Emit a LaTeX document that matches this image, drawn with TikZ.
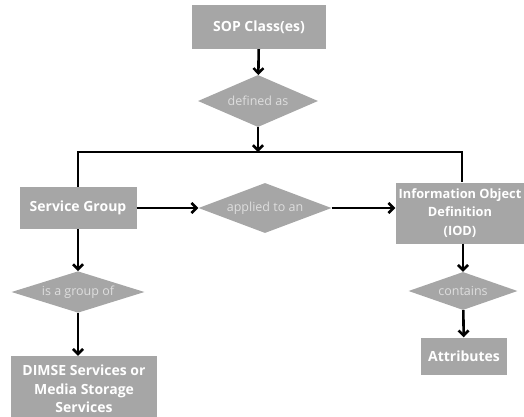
\documentclass[tikz,border=0pt]{standalone}
\usepackage{fontspec}
\setmainfont{Open Sans}
\usetikzlibrary{shapes.geometric,arrows.meta}
\definecolor{boxgray}{HTML}{A6A6A6}
\definecolor{labelgray}{HTML}{DEDEDE}
\tikzset{
	block/.style={fill=boxgray, text=white, font=\bfseries\fontsize{14}{18.5}\selectfont, align=center, inner sep=0pt},
	decision/.style={diamond, fill=boxgray, text=labelgray, font=\fontsize{12.5}{14}\selectfont, inner sep=0pt, aspect=2.5},
	flow/.style={-{Straight Barb[length=5pt,width=10pt]}, line width=2.6pt},
	link/.style={line width=2.6pt, line join=miter}
}
\begin{document}
\begin{tikzpicture}[x=1pt, y=-1pt]
	\useasboundingbox (0,0) rectangle (524,416);
	\node[block, minimum width=134, minimum height=44] (sop) at (259,27) {SOP Class(es)};
	\node[decision, minimum width=120, minimum height=52] (defined) at (258,101) {defined as};
	\coordinate (split) at (258,152);
	\node[block, minimum width=117, minimum height=42] (group) at (78,208) {Service Group};
	\node[decision, minimum width=133, minimum height=50] (applied) at (265,208) {applied to an};
	\node[block, minimum width=129, minimum height=61, font=\bfseries\fontsize{12.8}{18.5}\selectfont] (iod) at (460,213) {Information Object\\Definition\\(IOD)};
	\node[decision, minimum width=133, minimum height=41] (groupof) at (78,292) {is a group of};
	\node[block, minimum width=146, minimum height=66] (dimse) at (84,389) {DIMSE Services or\\Media Storage\\Services};
	\node[decision, minimum width=109, minimum height=38] (contains) at (463,291) {contains};
	\node[block, minimum width=86, minimum height=37] (attr) at (464,356) {Attributes};
	\draw[flow] (sop) -- (defined);
	\draw[flow] (defined) -- (split);
	\draw[link] (group.north) -- (group.north |- split) -- (462,152) coordinate (iodtop) -- (iodtop |- iod.north);
	\draw[flow] (group) -- (applied);
	\draw[flow] (applied.east) -- (applied.east -| iod.west);
	\draw[flow] (groupof.south) -- (groupof.south |- dimse.north);
	\draw[flow] (group) -- (groupof);
	\draw[flow] (iod.south -| contains) -- (contains);
	\draw[flow] (contains) -- (attr);
\end{tikzpicture}
\end{document}
